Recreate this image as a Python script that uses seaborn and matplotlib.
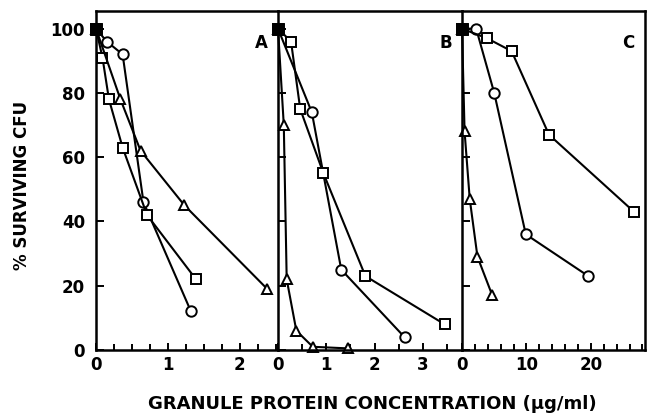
import numpy as np
import pandas as pd
import matplotlib
matplotlib.use("Agg")
import matplotlib.pyplot as plt
from matplotlib.ticker import MultipleLocator
import seaborn as sns

# panel A
a_circ_x = [0, 0.15, 0.37, 0.66, 1.32]
a_circ_y = [100, 96, 92, 46, 12]
a_sq_x = [0, 0.09, 0.18, 0.37, 0.71, 1.39]
a_sq_y = [100, 91, 78, 63, 42, 22]
a_tri_x = [0, 0.34, 0.62, 1.23, 2.38]
a_tri_y = [100, 78, 62, 45, 19]

# panel B
b_circ_x = [0, 0.70, 1.31, 2.62]
b_circ_y = [100, 74, 25, 4]
b_sq_x = [0, 0.27, 0.46, 0.94, 1.81, 3.45]
b_sq_y = [100, 96, 75, 55, 23, 8]
b_tri_x = [0, 0.12, 0.18, 0.38, 0.72, 1.45]
b_tri_y = [100, 70, 22, 6, 1, 0.5]

# panel C
c_circ_x = [0, 2.2, 5.0, 9.9, 19.6]
c_circ_y = [100, 100, 80, 36, 23]
c_sq_x = [0, 3.9, 7.7, 13.5, 26.7]
c_sq_y = [100, 97, 93, 67, 43]
c_tri_x = [0, 0.4, 1.2, 2.4, 4.7]
c_tri_y = [100, 68, 47, 29, 17]

panels = [
    ("A", [(a_circ_x, a_circ_y, "o"), (a_sq_x, a_sq_y, "s"), (a_tri_x, a_tri_y, "^")],
     2.53, [0, 1, 2], 0.25),
    ("B", [(b_circ_x, b_circ_y, "o"), (b_sq_x, b_sq_y, "s"), (b_tri_x, b_tri_y, "^")],
     3.81, [0, 1, 2, 3], 0.5),
    ("C", [(c_circ_x, c_circ_y, "o"), (c_sq_x, c_sq_y, "s"), (c_tri_x, c_tri_y, "^")],
     28.4, [0, 10, 20], 2),
]

sns.set_style("ticks", {"axes.edgecolor": "black", "text.color": "black",
                        "xtick.color": "black", "ytick.color": "black"})
plt.rcParams['font.family'] = ['DejaVu Sans']
plt.rcParams['font.weight'] = 'bold'

fig = plt.figure(figsize=(6.5, 4.16), dpi=100)
lefts = [96 / 650, 278 / 650, 462 / 650]
rights = [278 / 650, 462 / 650, 645 / 650]
bottom = 1 - 350 / 416
top = 1 - 11 / 416

axes = []
for i, (name, series, xmax, xt, minor) in enumerate(panels):
    ax = fig.add_axes([lefts[i], bottom, rights[i] - lefts[i], top - bottom])
    axes.append(ax)
    for xs, ys, mk in series:
        df = pd.DataFrame({"x": xs, "y": ys})
        sns.lineplot(data=df, x="x", y="y", ax=ax, color="black", lw=1.5,
                     marker=mk, markersize=7.5 if mk != "^" else 7.5,
                     markerfacecolor="white", markeredgecolor="black",
                     markeredgewidth=1.4, sort=False, estimator=None, clip_on=False)
    ctrl = pd.DataFrame({"x": [0], "y": [100]})
    sns.scatterplot(data=ctrl, x="x", y="y", ax=ax, marker="s", color="black",
                    s=75, zorder=10, clip_on=False, edgecolor="black")
    ax.set_xlim(0, xmax)
    ax.set_ylim(0, 105.5)
    ax.set_xticks(xt)
    ax.xaxis.set_minor_locator(MultipleLocator(minor))
    ax.set_yticks([0, 20, 40, 60, 80, 100])
    ax.tick_params(axis="both", which="both", direction="in", width=1.4,
                   labelsize=12, colors="black")
    ax.tick_params(axis="x", which="major", length=5, pad=4)
    ax.tick_params(axis="x", which="minor", length=4)
    ax.tick_params(axis="y", length=6, pad=8)
    ax.set_xlabel("")
    ax.set_ylabel("")
    for s in ax.spines.values():
        s.set_linewidth(1.8)
        s.set_color("black")
    if i < 2:
        ax.spines["right"].set_visible(False)
    if i > 0:
        ax.set_yticklabels([])
    ax.text(0.91, 0.905, name, transform=ax.transAxes, fontsize=12,
            fontweight="bold", ha="center", va="center", color="black")

fig.text(22 / 650, 1 - 185 / 416, "% SURVIVING CFU", rotation=90,
         ha="center", va="center", fontsize=12, fontweight="bold", color="black")
fig.text(372 / 650, 1 - 404 / 416, "GRANULE PROTEIN CONCENTRATION (\u03bcg/ml)",
         ha="center", va="center", fontsize=13, fontweight="bold", color="black")

fig.savefig("out.png", dpi=100)
